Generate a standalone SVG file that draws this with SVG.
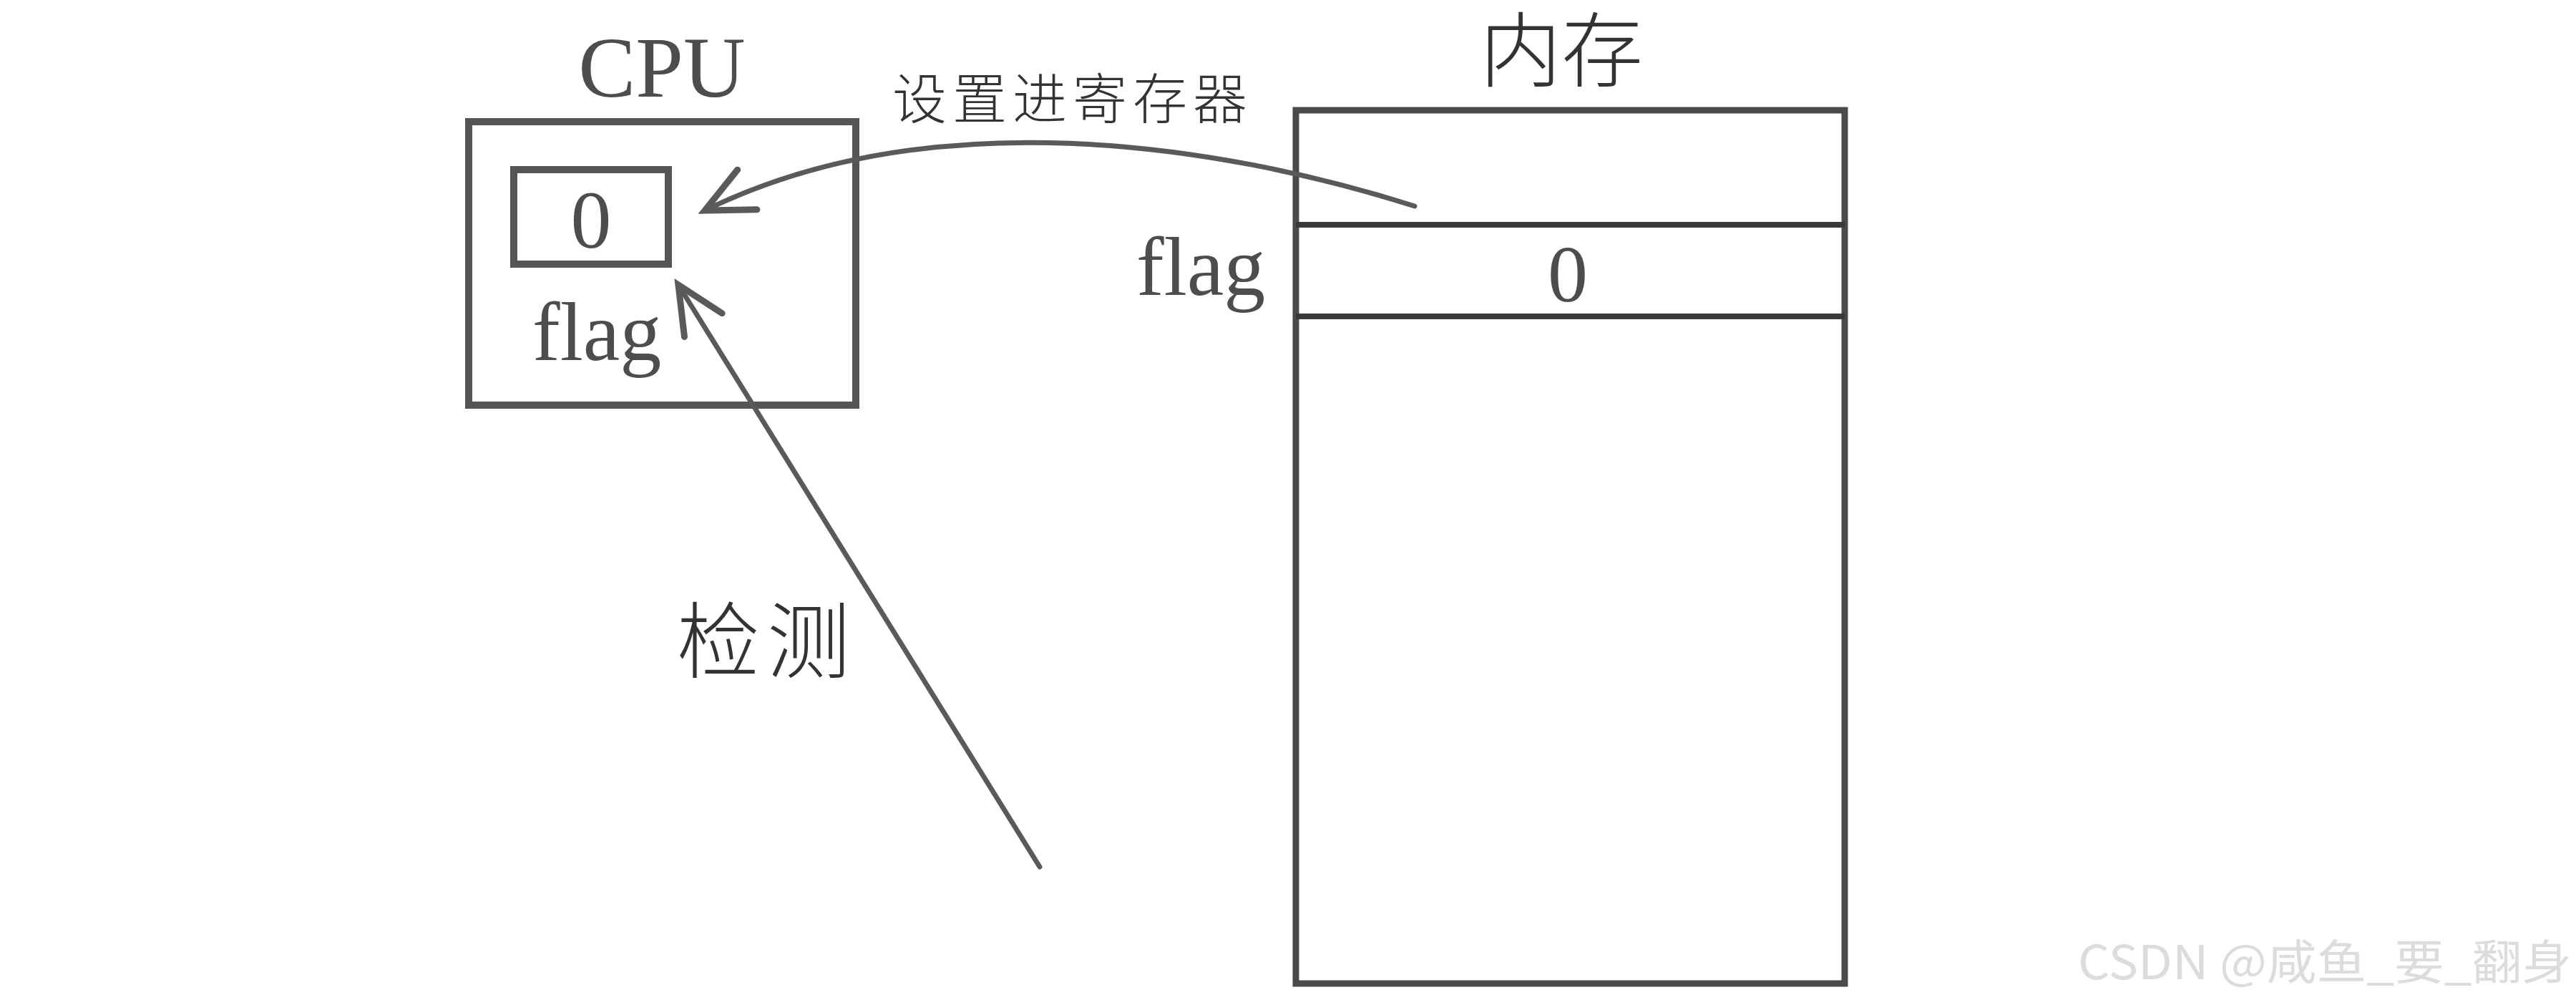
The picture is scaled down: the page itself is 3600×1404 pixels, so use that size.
<svg xmlns="http://www.w3.org/2000/svg" width="3600" height="1404" viewBox="0 0 3600 1404">
<style>
.box{fill:none;stroke:#555;stroke-width:10}
.mem{fill:none;stroke:#4a4a4a;stroke-width:9}
.row{stroke:#3a3a3a;stroke-width:8}
.serif{font-family:"Liberation Serif","Times New Roman",serif;fill:#4d4d4d}
.cjk{font-family:"Noto Sans CJK SC","Noto Sans CJK JP",sans-serif;fill:#333;font-weight:300}
.conn{fill:none;stroke:#5a5a5a;stroke-width:7;stroke-linecap:round}
</style>
<defs>
<marker id="open" markerUnits="userSpaceOnUse" viewBox="-90 -50 100 100" refX="0" refY="0" markerWidth="100" markerHeight="100" orient="auto" overflow="visible">
<path d="M-66,-31 L0,0 L-66,31" fill="none" stroke="#5a5a5a" stroke-width="9" stroke-linecap="round" stroke-linejoin="miter"/>
</marker>
</defs>
<rect width="3600" height="1404" fill="#fff"/>
<g id="cpu">
<text class="serif" x="925" y="135" font-size="120" text-anchor="middle">CPU</text>
<rect class="box" x="655" y="170" width="541" height="396"/>
<rect class="box" x="718" y="237" width="216" height="132"/>
<text class="serif" x="826" y="346" font-size="114" text-anchor="middle">0</text>
<text class="serif" x="744" y="503" font-size="116">flag</text>
</g>
<g id="memory">
<text class="cjk" x="2182" y="112" font-size="114" text-anchor="middle">内存</text>
<rect class="mem" x="1811" y="154" width="767" height="1220"/>
<line class="row" x1="1811" y1="314" x2="2578" y2="314"/>
<line class="row" x1="1811" y1="442" x2="2578" y2="442"/>
<text class="serif" x="2191" y="421" font-size="112" text-anchor="middle">0</text>
<text class="serif" x="1588" y="412" font-size="116">flag</text>
</g>
<g id="connectors">
<path class="conn" d="M1977,288 C1700,200 1300,140 985,294" marker-end="url(#open)"/>
<text class="cjk" x="1247" y="166" font-size="76" letter-spacing="8">设置进寄存器</text>
<path class="conn" d="M1453,1211 L948,398" stroke-width="6" marker-end="url(#open)"/>
<text class="cjk" x="946" y="938" font-size="116" letter-spacing="10">检测</text>
</g>
<text x="2904" y="1368" font-family="Noto Sans CJK SC,sans-serif" font-size="66" fill="#dcdcdc" textLength="690" lengthAdjust="spacingAndGlyphs">CSDN @咸鱼_要_翻身</text>
</svg>
